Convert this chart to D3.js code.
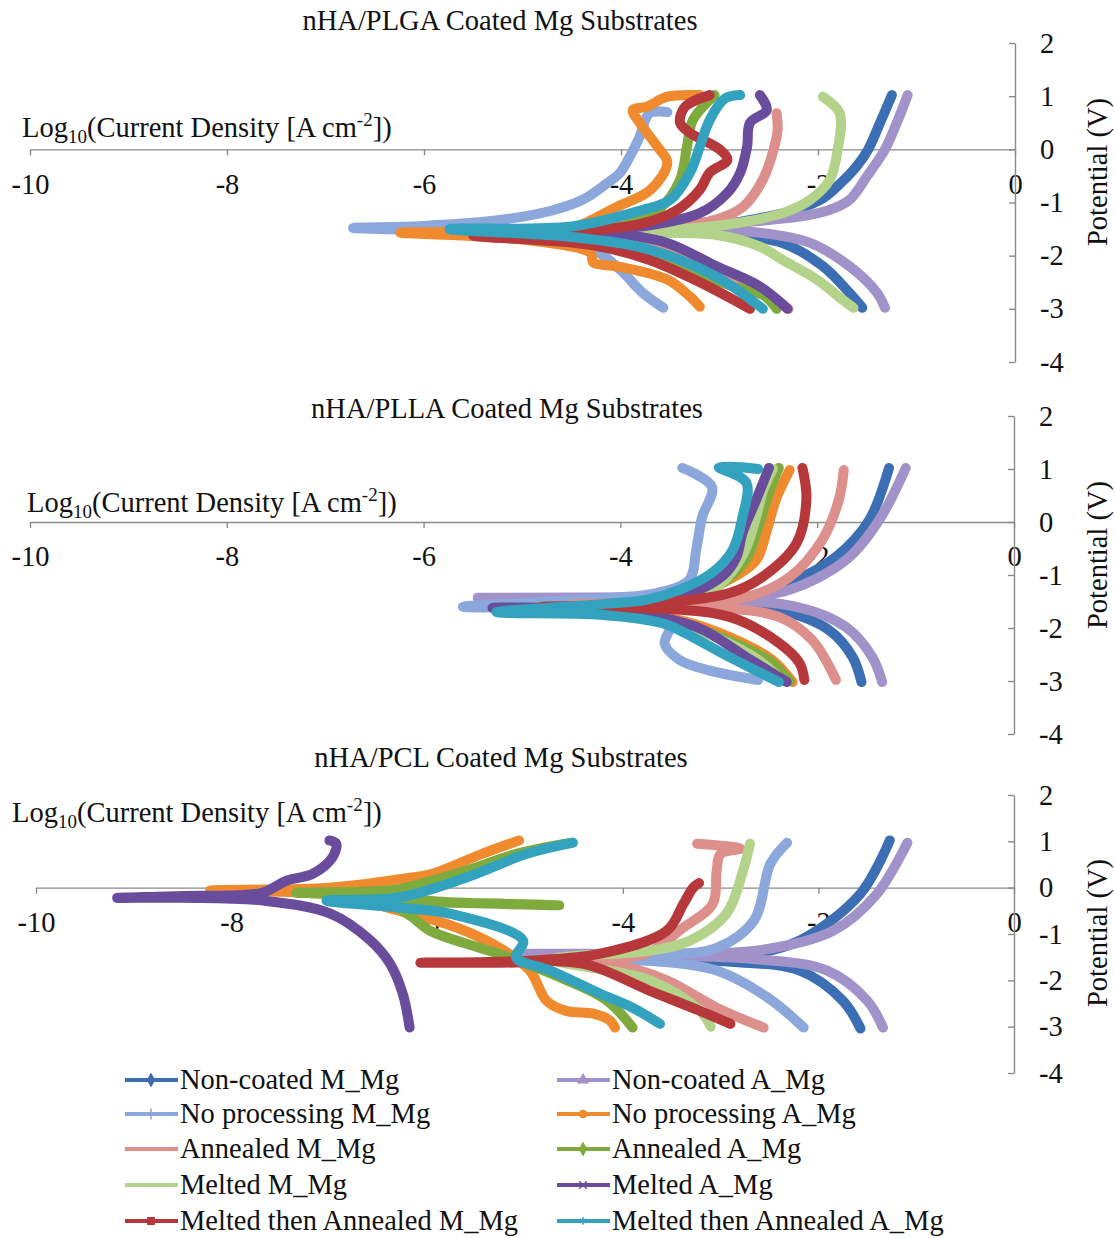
<!DOCTYPE html>
<html><head><meta charset="utf-8">
<script src="https://cdn.jsdelivr.net/npm/d3@7"></script>
<style>body{margin:0;background:#fff}svg text{font-family:"Liberation Serif","Times New Roman",serif;fill:#111}</style>
</head><body><svg id="c" width="1115" height="1238"></svg>
<script>
// ---------- DATA ----------
const seriesNames = ["Non-coated M_Mg","Non-coated A_Mg","No processing M_Mg","No processing A_Mg","Annealed M_Mg","Annealed A_Mg","Melted M_Mg","Melted A_Mg","Melted then Annealed M_Mg","Melted then Annealed A_Mg"];
const seriesColors = ["#3C6EB4","#A192C9","#8BA7DB","#EF8A2E","#DD8F8C","#7FAB3E","#B3D38A","#6A4C9C","#B7383A","#33A2BE"];
const panelTitles = ["nHA/PLGA Coated Mg Substrates","nHA/PLLA Coated Mg Substrates","nHA/PCL Coated Mg Substrates"];
const xTicks = [-10,-8,-6,-4,-2,0];
const yTicks = [-4,-3,-2,-1,0,1,2];

// Each series: [log10 current density, potential V], scan order (cathodic end -> Ecorr -> anodic end)
// nHA/PLGA
const plga_nonCoatedM = [[-1.55,-2.98],[-1.68,-2.7],[-1.95,-2.2],[-2.36,-1.76],[-3.03,-1.59],[-3.6,-1.55],[-4.3,-1.55],[-3.6,-1.5],[-3.0,-1.42],[-2.6,-1.3],[-2.2,-1.12],[-1.95,-0.92],[-1.75,-0.6],[-1.6,-0.3],[-1.49,0.0],[-1.37,0.5],[-1.25,1.02]];
const plga_nonCoatedA = [[-1.32,-2.98],[-1.40,-2.7],[-1.68,-2.2],[-2.08,-1.76],[-2.69,-1.55],[-3.5,-1.52],[-4.6,-1.5],[-3.6,-1.46],[-2.82,-1.38],[-2.21,-1.27],[-1.9,-1.15],[-1.68,-0.95],[-1.5,-0.5],[-1.32,0.0],[-1.2,0.5],[-1.09,1.02]];
const plga_noProcM = [[-3.57,-2.98],[-3.78,-2.7],[-4.01,-2.26],[-4.28,-1.89],[-4.89,-1.7],[-5.6,-1.55],[-6.72,-1.48],[-6.0,-1.44],[-5.23,-1.33],[-4.7,-1.15],[-4.39,-0.95],[-4.15,-0.65],[-4.01,-0.44],[-3.9,-0.1],[-3.81,0.24],[-3.71,0.68],[-3.53,0.7]];
const plga_noProcA = [[-3.2,-2.96],[-3.3,-2.77],[-3.53,-2.45],[-4.04,-2.2],[-4.28,-2.13],[-4.31,-1.95],[-4.89,-1.72],[-5.6,-1.62],[-6.24,-1.57],[-5.5,-1.55],[-4.55,-1.51],[-4.04,-1.08],[-3.7,-0.76],[-3.53,-0.25],[-3.63,0.05],[-3.81,0.5],[-3.88,0.74],[-3.74,0.8],[-3.53,0.99],[-3.2,1.02]];
const plga_annealedM = [[-2.3,-3.0],[-2.6,-2.6],[-3.1,-2.2],[-3.7,-1.85],[-4.5,-1.6],[-3.6,-1.5],[-3.0,-1.3],[-2.76,-1.08],[-2.56,-0.57],[-2.45,0.0],[-2.41,0.37],[-2.42,0.68]];
const plga_annealedA = [[-2.42,-3.0],[-2.55,-2.75],[-2.86,-2.58],[-3.2,-2.35],[-3.53,-2.08],[-4.0,-1.8],[-5.0,-1.58],[-4.0,-1.45],[-3.6,-1.1],[-3.4,-0.57],[-3.33,0.05],[-3.27,0.55],[-3.05,1.02]];
const plga_meltedM = [[-1.64,-2.98],[-1.75,-2.83],[-2.01,-2.45],[-2.36,-2.08],[-2.59,-1.83],[-3.03,-1.61],[-4.4,-1.58],[-3.5,-1.52],[-2.8,-1.38],[-2.36,-1.2],[-2.08,-0.95],[-1.88,-0.57],[-1.8,0],[-1.78,0.68],[-1.95,0.99]];
const plga_meltedA = [[-2.31,-3.0],[-2.59,-2.58],[-3.03,-2.2],[-3.53,-1.76],[-4.0,-1.6],[-4.8,-1.55],[-4.0,-1.5],[-3.2,-1.2],[-2.92,-0.82],[-2.79,-0.44],[-2.72,0.05],[-2.69,0.5],[-2.52,0.74],[-2.59,1.02]];
const plga_mtaM = [[-2.69,-3.0],[-3.2,-2.5],[-3.71,-2.08],[-4.3,-1.8],[-5.5,-1.62],[-4.5,-1.55],[-3.8,-1.4],[-3.43,-1.14],[-3.2,-0.76],[-3.1,-0.44],[-2.92,-0.2],[-3.0,0.0],[-3.3,0.31],[-3.4,0.5],[-3.35,0.8],[-3.1,1.02]];
const plga_mtaA = [[-2.56,-3.0],[-3.03,-2.4],[-3.7,-1.89],[-4.5,-1.65],[-5.74,-1.5],[-4.5,-1.45],[-3.8,-1.15],[-3.5,-0.95],[-3.3,-0.44],[-3.2,0.05],[-3.1,0.55],[-2.95,0.95],[-2.79,1.02]];
// nHA/PLLA
const plla_nonCoatedM = [[-1.55,-3.02],[-1.64,-2.55],[-1.88,-2.04],[-2.39,-1.66],[-3.0,-1.55],[-4.0,-1.52],[-3.0,-1.48],[-2.72,-1.42],[-2.28,-1.15],[-1.81,-0.66],[-1.47,0.04],[-1.27,1.02]];
const plla_nonCoatedA = [[-1.34,-3.02],[-1.44,-2.55],[-1.71,-1.98],[-2.21,-1.6],[-3.5,-1.45],[-5.45,-1.43],[-3.5,-1.42],[-2.72,-1.4],[-2.28,-1.28],[-1.71,-0.72],[-1.37,0.04],[-1.1,1.02]];
const plla_noProcM = [[-2.6,-2.98],[-3.1,-2.8],[-3.4,-2.6],[-3.55,-2.3],[-3.5,-1.95],[-3.8,-1.7],[-4.5,-1.62],[-5.6,-1.6],[-4.08,-1.43],[-3.63,-1.34],[-3.3,-1.09],[-3.23,-0.53],[-3.17,0.09],[-3.07,0.66],[-3.37,1.02]];
const plla_noProcA = [[-2.25,-3.02],[-2.46,-2.6],[-2.89,-2.17],[-3.4,-1.85],[-4.2,-1.68],[-5.0,-1.63],[-4.2,-1.58],[-3.3,-1.4],[-2.96,-1.15],[-2.62,-0.72],[-2.52,-0.21],[-2.42,0.42],[-2.28,0.98]];
const plla_annealedM = [[-1.81,-2.98],[-2.05,-2.23],[-2.39,-1.79],[-3.2,-1.6],[-4.5,-1.55],[-3.2,-1.5],[-2.72,-1.42],[-2.28,-1.04],[-1.95,-0.34],[-1.78,0.42],[-1.73,0.98]];
const plla_annealedA = [[-2.28,-3.0],[-2.5,-2.6],[-2.95,-2.2],[-3.4,-1.9],[-4.5,-1.65],[-3.4,-1.55],[-3.0,-1.2],[-2.72,-0.7],[-2.6,-0.1],[-2.5,0.5],[-2.39,1.02]];
const plla_meltedM = [[-2.35,-3.0],[-2.6,-2.6],[-3.0,-2.2],[-3.5,-1.85],[-4.5,-1.62],[-3.4,-1.55],[-3.0,-1.2],[-2.75,-0.6],[-2.62,0.1],[-2.55,0.6],[-2.45,1.0]];
const plla_meltedA = [[-2.31,-3.02],[-2.72,-2.55],[-3.23,-1.98],[-4.0,-1.7],[-5.3,-1.62],[-4.0,-1.58],[-3.3,-1.35],[-2.95,-1.0],[-2.82,-0.66],[-2.76,-0.21],[-2.62,0.42],[-2.49,1.02]];
const plla_mtaM = [[-2.13,-2.98],[-2.18,-2.66],[-2.39,-2.28],[-2.89,-1.79],[-3.8,-1.62],[-4.8,-1.6],[-3.8,-1.55],[-2.89,-1.34],[-2.56,-1.04],[-2.21,-0.4],[-2.11,0.42],[-2.15,1.02]];
const plla_mtaA = [[-2.39,-3.02],[-2.89,-2.55],[-3.4,-2.04],[-3.57,-1.91],[-4.2,-1.75],[-5.26,-1.7],[-4.2,-1.55],[-3.74,-1.47],[-3.4,-1.28],[-3.07,-0.96],[-2.86,-0.53],[-2.76,0.09],[-2.72,0.74],[-3.0,1.04],[-2.6,1.0]];
// nHA/PCL
const pcl_nonCoatedM = [[-1.57,-3.04],[-1.75,-2.44],[-2.19,-1.79],[-2.9,-1.6],[-4.3,-1.5],[-3.2,-1.47],[-2.7,-1.43],[-2.19,-1.14],[-1.57,-0.13],[-1.27,1.02]];
const pcl_nonCoatedA = [[-1.34,-3.02],[-1.5,-2.44],[-1.91,-1.79],[-2.6,-1.55],[-3.5,-1.47],[-5.0,-1.43],[-3.5,-1.42],[-2.6,-1.35],[-1.85,-0.93],[-1.4,-0.13],[-1.09,0.97]];
const pcl_noProcM = [[-2.15,-3.02],[-2.52,-2.37],[-3.04,-1.79],[-3.6,-1.6],[-4.5,-1.52],[-3.6,-1.45],[-3.04,-1.3],[-2.66,-0.71],[-2.49,0.52],[-2.32,0.97]];
const pcl_noProcA = [[-4.08,-3.02],[-4.13,-2.87],[-4.3,-2.72],[-4.58,-2.66],[-4.78,-2.44],[-4.95,-1.79],[-5.26,-1.3],[-5.7,-0.86],[-6.28,-0.5],[-7.0,-0.15],[-8.22,-0.06],[-7.0,0.0],[-6.16,0.22],[-5.95,0.3],[-5.44,0.73],[-5.06,1.02]];
const pcl_annealedM = [[-2.56,-3.02],[-3.04,-2.59],[-3.55,-2.0],[-4.0,-1.7],[-4.8,-1.55],[-3.8,-1.45],[-3.38,-0.86],[-3.08,-0.35],[-3.04,0.37],[-3.0,0.73],[-2.8,0.84],[-3.24,0.95]];
const pcl_annealedA = [[-3.9,-3.02],[-4.16,-2.44],[-4.57,-2.0],[-5.26,-1.43],[-5.46,-1.3],[-5.97,-0.93],[-6.15,-0.64],[-6.3,-0.4],[-5.9,-0.33],[-4.65,-0.38],[-5.9,-0.3],[-6.5,-0.15],[-7.34,-0.11],[-6.6,-0.08],[-6.29,-0.03],[-5.6,0.37],[-5.09,0.73],[-4.52,0.97]];
const pcl_meltedM = [[-3.1,-3.0],[-3.21,-2.66],[-3.72,-2.0],[-4.7,-1.55],[-3.72,-1.36],[-3.31,-1.14],[-2.94,-0.56],[-2.77,0.37],[-2.7,0.95]];
const pcl_meltedA = [[-6.18,-3.02],[-6.25,-2.29],[-6.38,-1.64],[-6.58,-1.14],[-6.99,-0.56],[-7.68,-0.28],[-8.5,-0.22],[-9.17,-0.22],[-8.5,-0.18],[-7.69,-0.11],[-7.44,0.15],[-7.17,0.30],[-6.97,0.65],[-6.93,0.95],[-7.0,1.02]];
const pcl_mtaM = [[-2.9,-2.94],[-3.21,-2.66],[-3.73,-2.22],[-4.41,-1.64],[-5.26,-1.62],[-6.07,-1.62],[-5.0,-1.58],[-4.24,-1.43],[-3.55,-0.93],[-3.38,-0.35],[-3.28,0.0],[-3.22,0.1]];
const pcl_mtaA = [[-3.62,-2.94],[-3.9,-2.59],[-4.23,-2.29],[-4.74,-1.79],[-5.09,-1.51],[-5.02,-1.14],[-5.77,-0.56],[-6.29,-0.43],[-7.03,-0.28],[-6.29,-0.21],[-5.6,0.22],[-4.98,0.73],[-4.51,0.97]];

const panelSeries = [
  [plga_nonCoatedM,plga_nonCoatedA,plga_noProcM,plga_noProcA,plga_annealedM,plga_annealedA,plga_meltedM,plga_meltedA,plga_mtaM,plga_mtaA],
  [plla_nonCoatedM,plla_nonCoatedA,plla_noProcM,plla_noProcA,plla_annealedM,plla_annealedA,plla_meltedM,plla_meltedA,plla_mtaM,plla_mtaA],
  [pcl_nonCoatedM,pcl_nonCoatedA,pcl_noProcM,pcl_noProcA,pcl_annealedM,pcl_annealedA,pcl_meltedM,pcl_meltedA,pcl_mtaM,pcl_mtaA]
];

// ---------- LAYOUT ----------
const layout = [
  {x0:30, x1:1015, yTop:43, yBot:362, titleX:500, titleY:30, logX:22, logY:137, potY:172},
  {x0:30, x1:1014, yTop:416, yBot:734, titleX:507, titleY:418, logX:27, logY:512, potY:555},
  {x0:36, x1:1014, yTop:795, yBot:1073, titleX:501, titleY:767, logX:12, logY:822, potY:933}
];
const FS = 28.5, FSsmall = 19;
const axisColor = "#8a8a8a";
const svg = d3.select("#c");

layout.forEach((L, p) => {
  const x = d3.scaleLinear().domain([-10,0]).range([L.x0, L.x1]);
  const y = d3.scaleLinear().domain([-4,2]).range([L.yBot, L.yTop]);
  const g = svg.append("g");

  // x axis at potential 0
  const xa = g.append("g").attr("transform", `translate(0,${y(0)})`)
    .call(d3.axisBottom(x).tickValues(xTicks).tickFormat(d3.format("d")).tickSize(6).tickSizeOuter(0).tickPadding(18));
  xa.select(".domain").attr("stroke", axisColor).attr("stroke-width", 1.4);
  xa.selectAll(".tick line").attr("stroke", axisColor).attr("stroke-width", 1.4);
  xa.selectAll(".tick text").attr("font-size", FS).attr("font-family", "Liberation Serif").attr("fill", "#111")
    .text(d => d === 0 ? "0" : "-" + Math.abs(d));

  // y axis at log current 0
  const ya = g.append("g").attr("transform", `translate(${x(0)},0)`)
    .call(d3.axisRight(y).tickValues(yTicks).tickFormat(d3.format("d")).tickSizeInner(-6).tickSizeOuter(0).tickPadding(25));
  ya.select(".domain").attr("stroke", axisColor).attr("stroke-width", 1.4);
  ya.selectAll(".tick line").attr("stroke", axisColor).attr("stroke-width", 1.4);
  ya.selectAll(".tick text").attr("font-size", FS).attr("font-family", "Liberation Serif").attr("fill", "#111")
    .attr("text-anchor", "start").attr("x", 25)
    .text(d => d < 0 ? "-" + Math.abs(d) : String(d));

  // titles
  g.append("text").attr("x", L.titleX).attr("y", L.titleY).attr("text-anchor", "middle").attr("font-size", FS).text(panelTitles[p]);
  const lt = g.append("text").attr("x", L.logX).attr("y", L.logY).attr("font-size", FS);
  lt.append("tspan").text("Log");
  lt.append("tspan").attr("font-size", FSsmall).attr("dy", 6).text("10");
  lt.append("tspan").attr("dy", -6).text("(Current Density [A cm");
  lt.append("tspan").attr("font-size", FSsmall).attr("dy", -11).text("-2");
  lt.append("tspan").attr("dy", 11).text("])");
  g.append("text").attr("transform", `translate(1107,${L.potY}) rotate(-90)`).attr("text-anchor", "middle").attr("font-size", FS).text("Potential (V)");

  // curves
  const line = d3.line().x(d => x(d[0])).y(d => y(d[1])).curve(d3.curveCatmullRom.alpha(0.5));
  panelSeries[p].forEach((s, i) => {
    g.append("path").attr("d", line(s)).attr("fill", "none")
      .attr("stroke", seriesColors[i]).attr("stroke-width", 10)
      .attr("stroke-linejoin", "round").attr("stroke-linecap", "round");
  });
});

// ---------- LEGEND ----------
const legendSymbols = [d3.symbolDiamond, d3.symbolTriangle, d3.symbolPlus || d3.symbolCross, d3.symbolCircle, null, d3.symbolDiamond, null, d3.symbolTimes || d3.symbolCross, d3.symbolSquare, d3.symbolAsterisk || d3.symbolStar];
const legendRowsY = [1080, 1114, 1149, 1185, 1221];
const legendColsX = [125, 557];
seriesNames.forEach((name, i) => {
  const col = i % 2, row = Math.floor(i / 2);
  const lx = legendColsX[col], ly = legendRowsY[row];
  const lg = svg.append("g");
  lg.append("line").attr("x1", lx).attr("x2", lx + 53).attr("y1", ly).attr("y2", ly)
    .attr("stroke", seriesColors[i]).attr("stroke-width", 4);
  if (legendSymbols[i]) {
    const filled = !(legendSymbols[i] === d3.symbolTimes || legendSymbols[i] === d3.symbolAsterisk || legendSymbols[i] === d3.symbolPlus);
    lg.append("path").attr("transform", `translate(${lx + 26},${ly})`)
      .attr("d", d3.symbol().type(legendSymbols[i]).size(40)())
      .attr("fill", filled ? seriesColors[i] : "none").attr("stroke", seriesColors[i]).attr("stroke-width", 1.5);
  }
  lg.append("text").attr("x", lx + 55).attr("y", ly + 9).attr("font-size", FS).text(name);
});
</script></body></html>
